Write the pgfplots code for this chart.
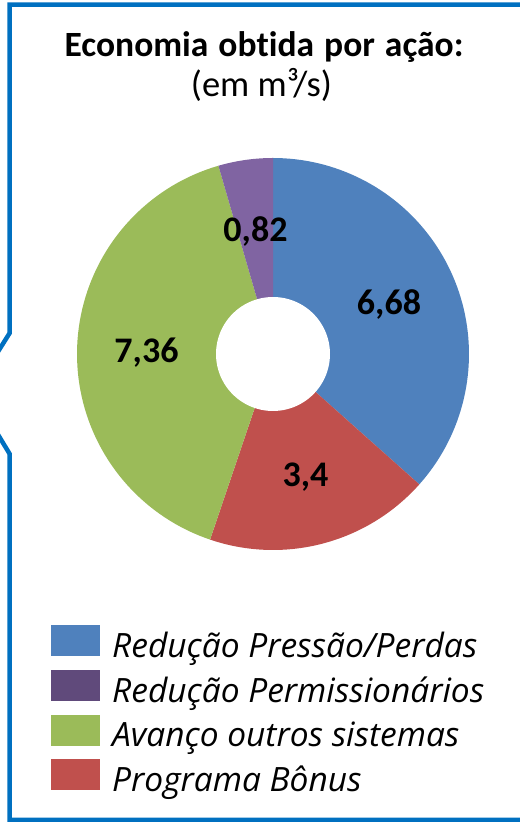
\documentclass[border=0pt]{standalone}
\usepackage{fontspec}
\setmainfont{Carlito}[Ligatures={NoCommon}]
\newfontfamily\titfont{Carlito}[Ligatures={NoCommon}, WordSpace={1.25}]
\newfontfamily\legfont{Open Sans}
\usepackage{pgfplots}
\usepackage{pgfplotstable}
\pgfplotsset{compat=1.18}
\definecolor{cBlue}{HTML}{4F81BD}
\definecolor{cRed}{HTML}{C0504D}
\definecolor{cGreen}{HTML}{9BBB59}
\definecolor{cPurple}{HTML}{8064A2}
\definecolor{cPurpleLeg}{HTML}{604A7B}
\definecolor{cBorder}{HTML}{0070C0}
\pgfplotstableread{
label value
A 6.68
B 3.4
C 7.36
D 0.82
}\piedata
\begin{document}
\begin{tikzpicture}
\pgfplotstablegetelem{0}{value}\of\piedata \let\vA\pgfplotsretval
\pgfplotstablegetelem{1}{value}\of\piedata \let\vB\pgfplotsretval
\pgfplotstablegetelem{2}{value}\of\piedata \let\vC\pgfplotsretval
\pgfplotstablegetelem{3}{value}\of\piedata \let\vD\pgfplotsretval
\pgfmathsetmacro\tot{\vA+\vB+\vC+\vD}
\pgfmathsetmacro\aO{90}
\pgfmathsetmacro\aA{90-360*\vA/\tot}
\pgfmathsetmacro\aB{\aA-360*\vB/\tot}
\pgfmathsetmacro\aC{\aB-360*\vC/\tot}
\pgfmathsetmacro\aD{\aC-360*\vD/\tot}
\def\cx{273}\def\cy{468}\def\R{196}\def\r{57}
\begin{axis}[
  width=520bp, height=822bp, scale only axis,
  xmin=0, xmax=520, ymin=0, ymax=822,
  hide axis, clip=false,
  legend style={
    at={(axis cs:51,197)}, anchor=north west,
    draw=none, fill=none, inner sep=0pt,
    font=\legfont\itshape\fontsize{33.5bp}{38bp}\selectfont,
    row sep=11.9bp,
    nodes={inner sep=0pt, text depth=0pt},
  },
  legend cell align=left,
  legend image code/.code={\fill[#1] (0bp,-11bp) rectangle (49bp,20bp);
    \path (61bp,0bp);},
]
\addplot[forget plot, fill=cBlue, draw=none, domain=\aA:\aO, samples=80, variable=\t]
  ({\cx+\R*cos(\t)}, {\cy+\R*sin(\t)}) -- (axis cs:\cx,\cy) -- cycle;
\addplot[forget plot, fill=cRed, draw=none, domain=\aB:\aA, samples=60, variable=\t]
  ({\cx+\R*cos(\t)}, {\cy+\R*sin(\t)}) -- (axis cs:\cx,\cy) -- cycle;
\addplot[forget plot, fill=cGreen, draw=none, domain=\aC:\aB, samples=80, variable=\t]
  ({\cx+\R*cos(\t)}, {\cy+\R*sin(\t)}) -- (axis cs:\cx,\cy) -- cycle;
\addplot[forget plot, fill=cPurple, draw=none, domain=\aD:\aC, samples=20, variable=\t]
  ({\cx+\R*cos(\t)}, {\cy+\R*sin(\t)}) -- (axis cs:\cx,\cy) -- cycle;
\addplot[forget plot, fill=white, draw=none, domain=0:360, samples=100, variable=\t]
  ({\cx+\r*cos(\t)}, {\cy+\r*sin(\t)}) -- cycle;
% data labels
\node[anchor=base, font=\bfseries\fontsize{36bp}{40bp}\selectfont] at (axis cs:389,507) {6,68};
\node[anchor=base, font=\bfseries\fontsize{36bp}{40bp}\selectfont] at (axis cs:255.5,580) {0,82};
\node[anchor=base, font=\bfseries\fontsize{36bp}{40bp}\selectfont] at (axis cs:146.5,459) {7,36};
\node[anchor=base, font=\bfseries\fontsize{36bp}{40bp}\selectfont] at (axis cs:305.5,335) {3,4};
% title
\node[anchor=base, font=\titfont\bfseries\fontsize{35.5bp}{40bp}\selectfont] at (axis cs:264,765) {Economia obtida por ação:};
\node[anchor=base, font=\fontsize{36.5bp}{40bp}\selectfont] at (axis cs:261.5,725) {(em m³/s)};
% legend
\addlegendimage{fill=cBlue, draw=none}
\addlegendentry{Redução Pressão/Perdas}
\addlegendimage{fill=cPurpleLeg, draw=none}
\addlegendentry{Redução Permissionários}
\addlegendimage{fill=cGreen, draw=none}
\addlegendentry{Avanço outros sistemas}
\addlegendimage{fill=cRed, draw=none}
\addlegendentry{Programa Bônus}
% callout border
\draw[line width=4.5bp, cBorder, line join=miter]
  (axis cs:530,817.3) -- (axis cs:9.7,817.3) -- (axis cs:9.7,489) -- (axis cs:-6,464)
  -- (axis cs:-6,394) -- (axis cs:9.7,368) -- (axis cs:9.7,2) -- (axis cs:530,2);
\end{axis}
\pgfresetboundingbox
\useasboundingbox (current axis.south west) rectangle (current axis.north east);
\end{tikzpicture}
\end{document}
